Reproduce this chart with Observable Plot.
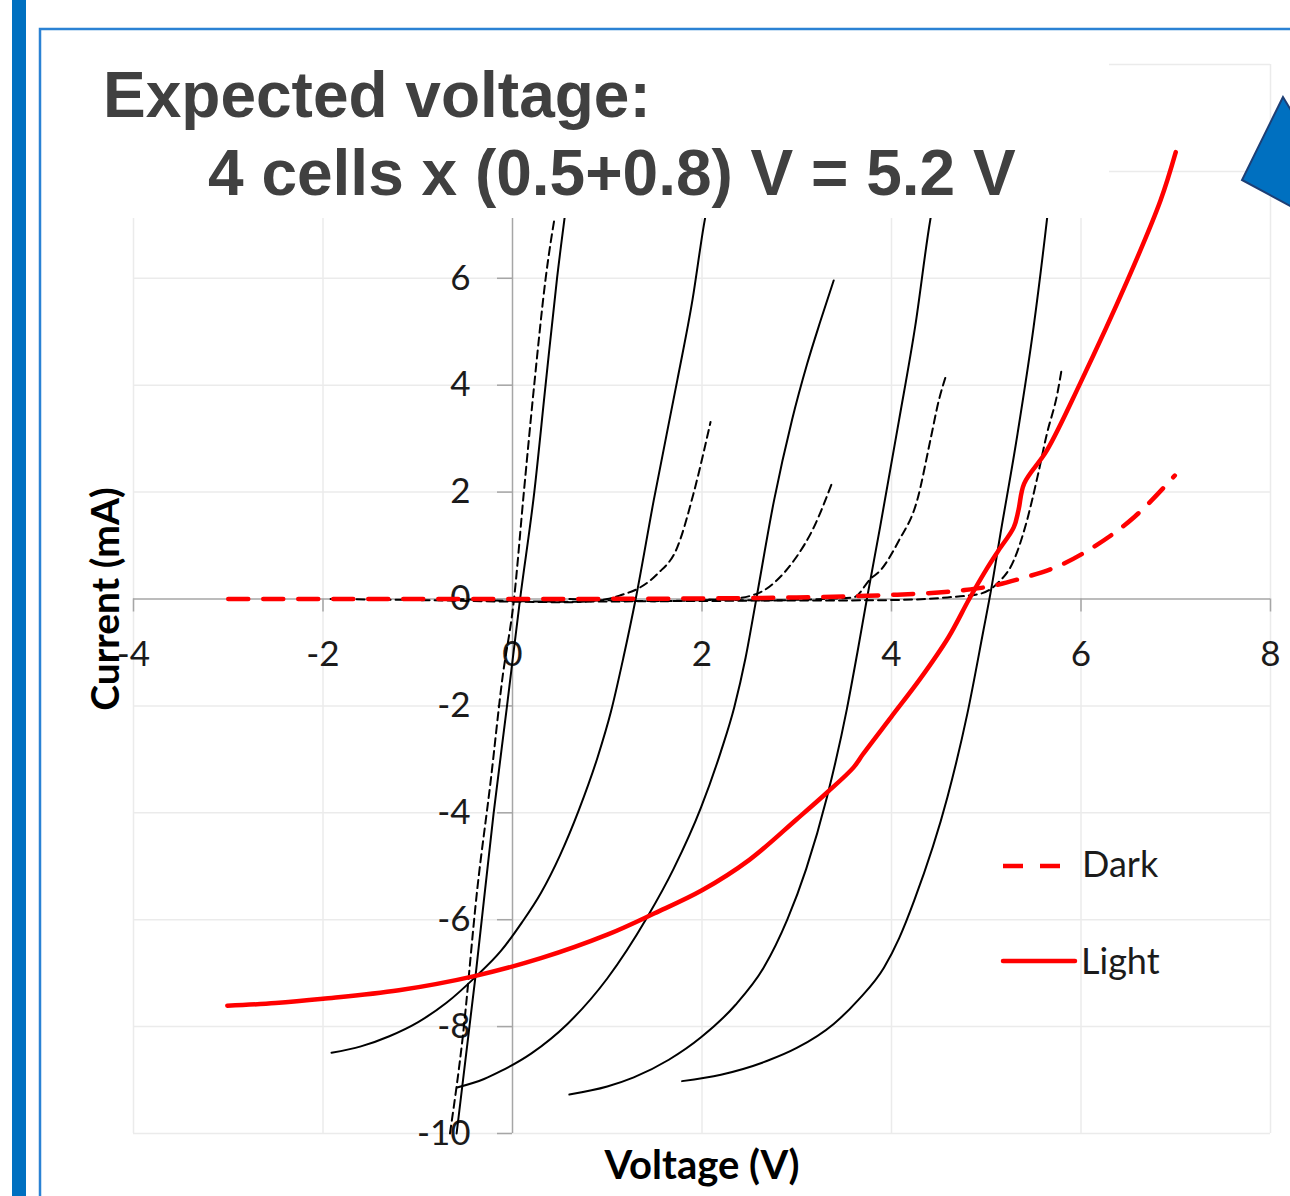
<!DOCTYPE html>
<html><head><meta charset="utf-8">
<script src="https://cdn.jsdelivr.net/npm/d3@7"></script>
<script src="https://cdn.jsdelivr.net/npm/@observablehq/plot@0.6"></script>
<style>
html,body{margin:0;padding:0;background:#fff;}
#wrap{position:relative;width:1290px;height:1196px;overflow:hidden;background:#fff;}
#chart{position:absolute;left:0;top:0;}
#deco{position:absolute;left:0;top:0;}
</style></head><body>
<div id="wrap">
<div id="chart"></div>
<svg id="deco" width="1290" height="1196" xmlns="http://www.w3.org/2000/svg">
  <rect x="12" y="0" width="14" height="1196" fill="#0070C0"/>
  <path d="M40 1196 V29 H1290" fill="none" stroke="#2B82D4" stroke-width="2.5"/>
  <rect x="50" y="40" width="1059" height="178" fill="#ffffff"/>
  <text x="103" y="117" font-family="'Liberation Sans', Arial, sans-serif" font-weight="bold" font-size="64" fill="#404040">Expected voltage:</text>
  <text x="208" y="195" font-family="'Liberation Sans', Arial, sans-serif" font-weight="bold" font-size="64" fill="#404040">4 cells x (0.5+0.8) V = 5.2 V</text>
  <line x1="1003" y1="866" x2="1060" y2="866" stroke="#ff0000" stroke-width="4.5" stroke-dasharray="20,17"/>
  <text x="1082" y="877" font-family="Lato, sans-serif" font-size="36" fill="#1b1b1b">Dark</text>
  <line x1="1003" y1="961" x2="1075" y2="961" stroke="#ff0000" stroke-width="4.5" stroke-linecap="round"/>
  <text x="1081" y="974" font-family="Lato, sans-serif" font-size="36" fill="#1b1b1b">Light</text>
  <polygon points="1283,97 1242,180 1292,207 1292,112" fill="#0070C0" stroke="#1D3F75" stroke-width="2"/>
</svg>
</div>
<script>
// Axis ticks
const xTicks = [-4, -2, 0, 2, 4, 6, 8];
const xTickLabels = ["-4", "-2", "0", "2", "4", "6", "8"];
const yTicks = [-10, -8, -6, -4, -2, 0, 2, 4, 6];
const yTickLabels = ["-10", "-8", "-6", "-4", "-2", "0", "2", "4", "6"];
const xGrid = [-4, -2, 2, 4, 6, 8];
const yGrid = [-10, -8, -6, -4, -2, 2, 4, 6, 8, 10];

// Black solid curves (illuminated), [voltage V, current mA]
const lightA = [[-0.59,-10],[-0.39,-7.05],[-0.2,-4.02],[-0.06,-2.03],[0.08,0],[0.23,2],[0.35,4.02],[0.47,6],[0.57,7.4]];
const lightB = [[-1.91,-8.49],[-1.6,-8.37],[-1.3,-8.18],[-1.0,-7.92],[-0.7,-7.56],[-0.39,-7.07],[-0.12,-6.58],[0.1,-6.05],[0.3,-5.5],[0.5,-4.8],[0.7,-3.95],[0.9,-2.95],[1.04,-2.1],[1.17,-1.1],[1.30,0],[1.49,1.84],[1.74,4.1],[1.90,5.6],[2.02,7.0],[2.06,7.4]];
const lightC = [[-0.585,-9.14],[-0.3,-8.98],[-0.12,-8.83],[0.2,-8.5],[0.58,-7.95],[1.0,-7.1],[1.42,-5.96],[1.7,-5.05],[1.99,-3.9],[2.2,-2.85],[2.34,-2.03],[2.46,-1.1],[2.57,-0.03],[2.76,1.84],[2.95,3.35],[3.11,4.4],[3.25,5.2],[3.39,5.96]];
const lightD = [[0.60,-9.27],[1.0,-9.12],[1.28,-8.95],[1.65,-8.62],[1.99,-8.2],[2.35,-7.6],[2.65,-6.9],[2.9,-6.0],[3.1,-5.05],[3.32,-3.7],[3.53,-2.05],[3.64,-1.0],[3.74,0],[3.88,1.35],[4.08,3.35],[4.25,5.1],[4.41,7.1],[4.44,7.4]];
const lightE = [[1.79,-9.02],[2.2,-8.9],[2.69,-8.64],[3.0,-8.4],[3.39,-7.95],[3.65,-7.5],[3.92,-6.90],[4.08,-6.35],[4.24,-5.64],[4.59,-3.71],[4.80,-2.15],[4.97,-0.59],[5.05,0.16],[5.15,1.22],[5.33,3.09],[5.50,5.09],[5.64,7.09],[5.66,7.4]];

// Black dashed curves (dark)
const darkA = [[-0.66,-10],[-0.53,-8.27],[-0.37,-5.4],[-0.23,-3.4],[-0.11,-1.53],[0.016,0],[0.12,2],[0.23,4.02],[0.35,6],[0.47,7.4]];
const darkB = [[-1.92,0],[-1,-0.02],[0,-0.05],[0.6,-0.06],[1.0,0],[1.14,0.07],[1.35,0.22],[1.53,0.47],[1.74,0.97],[1.91,1.97],[2.09,3.31]];
const darkC = [[-0.6,0],[0.5,-0.05],[1.5,-0.04],[2.3,0],[2.62,0.13],[2.79,0.35],[2.97,0.72],[3.18,1.34],[3.37,2.16]];
const darkD = [[0.6,0],[1.5,-0.04],[2.5,-0.03],[3.3,0],[3.60,0.03],[3.78,0.38],[3.88,0.53],[4.08,1.1],[4.27,1.84],[4.41,2.97],[4.5,3.72],[4.57,4.15]];
const darkE = [[1.8,0],[3,-0.03],[4,-0.02],[4.59,0.03],[4.94,0.10],[5.11,0.28],[5.29,0.72],[5.43,1.47],[5.54,2.28],[5.64,3.09],[5.75,3.84],[5.80,4.34]];

// Red curves: 4-cell stack
const stackLight = [[-3.01,-7.61],[-2.5,-7.56],[-2.0,-7.48],[-1.2,-7.32],[-0.39,-7.05],[0.3,-6.72],[1.0,-6.28],[1.5,-5.88],[2.0,-5.45],[2.5,-4.88],[3.0,-4.12],[3.32,-3.62],[3.6,-3.15],[3.7,-2.9],[4.0,-2.2],[4.3,-1.5],[4.6,-0.72],[4.82,0.0],[5.0,0.55],[5.13,0.91],[5.29,1.34],[5.34,1.66],[5.40,2.16],[5.64,2.78],[5.99,4.03],[6.49,5.96],[6.84,7.46],[7.0,8.36]];
const stackDark = [[-3,0],[-1,0],[0,0],[2,0.01],[3,0.03],[3.9,0.07],[4.73,0.16],[5.08,0.25],[5.36,0.38],[5.78,0.63],[6.13,0.97],[6.56,1.53],[6.99,2.31]];

const blackSolid = [lightA, lightB, lightC, lightD, lightE];
const blackDashed = [darkA, darkB, darkC, darkD, darkE];

const axisColor = "#a6a6a6";
const gridColor = "#ebebeb";
const textColor = "#1b1b1b";
const px = d => d[0], py = d => d[1];

const chart = Plot.plot({
  width: 1290,
  height: 1196,
  marginLeft: 133,
  marginRight: 20,
  marginTop: 64,
  marginBottom: 63,
  x: {domain: [-4, 8], axis: null},
  y: {domain: [-10, 10], axis: null},
  style: {fontFamily: "Lato, sans-serif", fontSize: "35px", color: textColor, background: "#ffffff", overflow: "visible"},
  marks: [
    Plot.ruleX(xGrid, {stroke: gridColor, strokeWidth: 1.5}),
    Plot.ruleY(yGrid, {stroke: gridColor, strokeWidth: 1.5}),
    Plot.ruleY([0], {stroke: axisColor, strokeWidth: 1.5}),
    Plot.ruleX([0], {stroke: axisColor, strokeWidth: 1.5}),
    Plot.ruleX(xTicks, {x: d => d, y1: 0, y2: 0, insetBottom: -13, stroke: axisColor, strokeWidth: 1.5}),
    Plot.ruleY(yTicks, {y: d => d, x1: 0, x2: 0, insetLeft: -15, stroke: axisColor, strokeWidth: 1.5}),
    Plot.text(xTicks, {x: d => d, y: 0, text: (d, i) => xTickLabels[i], dy: 56, fontSize: 35, fill: textColor}),
    Plot.text(yTicks, {x: 0, y: d => d, text: (d, i) => yTickLabels[i], dx: -42, textAnchor: "end", fontSize: 35, fill: textColor}),
    ...blackDashed.map(s => Plot.line(s, {x: px, y: py, stroke: "#000", strokeWidth: 2, strokeDasharray: "8,5", curve: "monotone-x"})),
    ...blackSolid.map(s => Plot.line(s, {x: px, y: py, stroke: "#000", strokeWidth: 2, curve: "monotone-x"})),
    Plot.line(stackDark, {x: px, y: py, stroke: "#ff0000", strokeWidth: 4.5, strokeDasharray: "20,15", curve: "monotone-x"}),
    Plot.line(stackLight, {x: px, y: py, stroke: "#ff0000", strokeWidth: 4.5, curve: "catmull-rom"}),
    Plot.text(["Voltage (V)"], {frameAnchor: "bottom", lineAnchor: "middle", textAnchor: "middle", dy: 33, fontSize: 40, fontWeight: "bold", fill: "#000"}),
    Plot.text(["Current (mA)"], {frameAnchor: "left", lineAnchor: "middle", textAnchor: "middle", rotate: -90, dx: -27, fontSize: 39, fontWeight: "bold", fill: "#000"})
  ]
});
document.getElementById("chart").appendChild(chart);
</script>
</body></html>
